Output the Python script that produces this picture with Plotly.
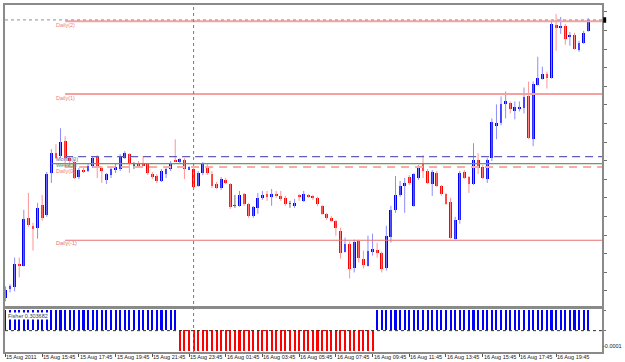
import numpy as np
import plotly.graph_objects as go

# EURUSD M15 bars, 15 Aug 2011 13:45 -> 16 Aug 2011 21:30 (prices in points, 1e-5)
open_pts = [143310, 143355, 143365, 143485, 143475, 143715, 143675, 143665, 143780, 143730,
            143940, 144040, 144025, 144100, 144015, 143995, 143920, 143955, 143950, 143975,
            144025, 143965, 143905, 143930, 143960, 143960, 144015, 144035, 143980, 143990,
            143990, 143985, 143935, 143925, 143900, 143935, 143960, 144005, 143995, 144005,
            143960, 143960, 143875, 143940, 143970, 143935, 143885, 143865, 143905, 143885,
            143775, 143775, 143835, 143785, 143725, 143765, 143815, 143835, 143820, 143835,
            143825, 143815, 143785, 143775, 143830, 143800, 143830, 143825, 143815, 143775,
            143735, 143715, 143700, 143650, 143545, 143585, 143460, 143600, 143510, 143475,
            143545, 143555, 143540, 143460, 143620, 143755, 143830, 143875, 143920, 143775,
            143915, 143985, 143950, 143885, 143940, 143875, 143835, 143795, 143610, 143705,
            143945, 143920, 143885, 144005, 143970, 143910, 144015, 144180, 144190, 144285,
            144290, 144250, 144265, 144265, 144325, 144110, 144385, 144415, 144440, 144420,
            144685, 144670, 144680, 144625, 144635, 144560, 144595, 144655]
high_pts = [143370, 143380, 143515, 143515, 143755, 143840, 143690, 143790, 143830, 143945,
            144060, 144085, 144165, 144125, 144025, 144010, 143965, 143970, 143985, 144025,
            144030, 143975, 143940, 143970, 143990, 144035, 144050, 144040, 143995, 144000,
            144025, 143990, 143945, 143935, 143960, 143975, 144000, 144110, 144015, 144015,
            143975, 143970, 143950, 143995, 143985, 143950, 143895, 143920, 143915, 143890,
            143830, 143850, 143840, 143790, 143775, 143840, 143850, 143850, 143860, 143850,
            143850, 143825, 143800, 143810, 143835, 143850, 143835, 143830, 143820, 143780,
            143740, 143725, 143705, 143665, 143615, 143595, 143605, 143605, 143550, 143625,
            143635, 143590, 143545, 143675, 143775, 143925, 143900, 143915, 143930, 143940,
            143980, 144030, 143960, 143955, 143950, 143880, 143840, 143815, 143720, 143950,
            143955, 143925, 144090, 144040, 143980, 144015, 144215, 144285, 144325, 144350,
            144300, 144300, 144300, 144370, 144400, 144400, 144525, 144475, 144450, 144700,
            144740, 144725, 144690, 144650, 144645, 144605, 144655, 144720]
low_pts = [143295, 143340, 143345, 143415, 143470, 143670, 143550, 143610, 143700, 143720,
           143890, 144010, 144015, 143965, 143975, 143910, 143910, 143940, 143945, 143965,
           143915, 143890, 143885, 143915, 143940, 143950, 144010, 143940, 143960, 143970,
           143975, 143930, 143910, 143890, 143895, 143915, 143950, 143995, 143985, 143910,
           143955, 143865, 143870, 143930, 143930, 143865, 143860, 143855, 143885, 143760,
           143765, 143770, 143775, 143715, 143715, 143735, 143805, 143800, 143775, 143815,
           143800, 143775, 143765, 143765, 143800, 143795, 143815, 143805, 143775, 143730,
           143705, 143695, 143625, 143510, 143540, 143410, 143440, 143490, 143460, 143470,
           143525, 143515, 143440, 143450, 143590, 143740, 143820, 143740, 143880, 143770,
           143905, 143915, 143885, 143825, 143870, 143825, 143780, 143610, 143605, 143685,
           143910, 143840, 143880, 143935, 143910, 143890, 144000, 144110, 144180, 144215,
           144240, 144210, 144250, 144240, 144110, 144075, 144380, 144410, 144365, 144415,
           144555, 144640, 144585, 144580, 144560, 144550, 144590, 144650]
close_pts = [143350, 143370, 143485, 143475, 143710, 143680, 143660, 143765, 143715, 143935,
             144040, 144015, 144095, 144015, 144000, 143915, 143955, 143950, 143975, 144015,
             143965, 143955, 143935, 143960, 143970, 144025, 144040, 143985, 143980, 143980,
             143980, 143940, 143925, 143900, 143950, 143960, 143990, 144000, 144010, 143960,
             143970, 143870, 143940, 143985, 143940, 143875, 143865, 143910, 143890, 143770,
             143775, 143830, 143785, 143725, 143770, 143815, 143830, 143820, 143835, 143825,
             143810, 143785, 143785, 143790, 143820, 143835, 143820, 143815, 143785, 143735,
             143715, 143700, 143665, 143540, 143585, 143455, 143595, 143515, 143480, 143550,
             143560, 143540, 143455, 143625, 143755, 143830, 143875, 143890, 143890, 143935,
             143970, 143950, 143890, 143945, 143875, 143835, 143785, 143615, 143705, 143940,
             143915, 143885, 144005, 143965, 143915, 144005, 144195, 144190, 144285, 144300,
             144260, 144270, 144270, 144320, 144115, 144390, 144420, 144440, 144420, 144690,
             144670, 144680, 144615, 144635, 144565, 144595, 144645, 144710]

fisher_sign = [1, 1, 1, 1, 1, 1, 1, 1, 1, 1, 1, 1, 1, 1, 1, 1, 1, 1, 1, 1,
               1, 1, 1, 1, 1, 1, 1, 1, 1, 1, 1, 1, 1, 1, 1, 1, 1, 1, -1, -1,
               -1, -1, -1, -1, -1, -1, -1, -1, -1, -1, -1, -1, -1, -1, -1, -1, -1, -1, -1, -1,
               -1, -1, -1, -1, -1, -1, -1, -1, -1, -1, -1, -1, -1, -1, -1, -1, -1, -1, -1, -1,
               -1, 1, 1, 1, 1, 1, 1, 1, 1, 1, 1, 1, 1, 1, 1, 1, 1, 1, 1, 1,
               1, 1, 1, 1, 1, 1, 1, 1, 1, 1, 1, 1, 1, 1, 1, 1, 1, 1, 1, 1,
               1, 1, 1, 1, 1, 1, 1, 1]

time_tick_index = [0, 8, 16, 24, 32, 40, 48, 56, 64, 72, 80, 88, 96, 104, 112, 120]
time_tick_labels = ["15 Aug 2011", "15 Aug 15:45", "15 Aug 17:45", "15 Aug 19:45",
                    "15 Aug 21:45", "15 Aug 23:45", "16 Aug 01:45", "16 Aug 03:45",
                    "16 Aug 05:45", "16 Aug 07:45", "16 Aug 09:45", "16 Aug 11:45",
                    "16 Aug 13:45", "16 Aug 15:45", "16 Aug 17:45", "16 Aug 19:45"]

level_names = ["Daily(2)", "Daily(1)", "Month(0)", "Week(0)", "Daily(0)", "Daily(-1)"]
level_pts = [144703, 144337, 144023, 143987, 143970, 143602]
day_separator_index = 41
fisher_label = "Fisher 0.303682"
sub_axis_label = "-0.0001"

# ---------------------------------------------------------------------------
o = np.array(open_pts) / 1e5
h = np.array(high_pts) / 1e5
l = np.array(low_pts) / 1e5
c = np.array(close_pts) / 1e5
n = len(o)
xi = np.arange(n)

BLUE, RED, GRAY = "#0000FF", "#FF0000", "#505050"
BLUE_W, RED_W, GRAY_W = "#8C8CFF", "#FF9494", "#707070"

kind = np.where(c > o, 0, np.where(c < o, 1, 2))
body_col = [BLUE, RED, GRAY]
wick_col = [BLUE_W, RED_W, GRAY_W]

fig = go.Figure()

# wicks
for k in range(3):
    xs, ys = [], []
    for i in xi[kind == k]:
        xs += [i, i, None]
        ys += [l[i], h[i], None]
    if xs:
        fig.add_trace(go.Scatter(x=xs, y=ys, mode="lines", line=dict(color=wick_col[k], width=1),
                                 hoverinfo="skip", showlegend=False, xaxis="x", yaxis="y"))

# bodies
base = np.minimum(o, c)
height = np.maximum(np.abs(c - o), 0.00004)
fig.add_trace(go.Bar(x=xi, y=height, base=base, width=0.62,
                     marker=dict(color=[body_col[k] for k in kind], line=dict(width=0)),
                     showlegend=False, xaxis="x", yaxis="y"))

# pivot level lines
xr = [-0.1, 130.0]
lvl_style = {
    "Daily(2)": dict(color="#F7A0A0", width=2, dash="solid", start=13.0, tcol="#F08080", off=4.0),
    "Daily(1)": dict(color="#F7A0A0", width=2, dash="solid", start=13.0, tcol="#F08080", off=3.5),
    "Month(0)": dict(color="#6060B8", width=1.3, dash="8px,5px", start=13.0, tcol="#6868A8", off=2.2),
    "Week(0)": dict(color="#60A060", width=1.3, dash="solid", start=10.2, tcol="#609060", off=1.5),
    "Daily(0)": dict(color="#FFA8A8", width=2, dash="8px,6px", start=13.0, tcol="#F08080", off=4.0),
    "Daily(-1)": dict(color="#E87070", width=1, dash="solid", start=13.0, tcol="#E87070", off=2.5),
}
for name, val in zip(level_names, level_pts):
    st = lvl_style[name]
    pv = val / 1e5
    fig.add_trace(go.Scatter(x=[st["start"], xr[1]], y=[pv, pv], mode="lines",
                             line=dict(color=st["color"], width=st["width"], dash=st["dash"]),
                             hoverinfo="skip", showlegend=False, xaxis="x", yaxis="y"))
    fig.add_annotation(x=10.6, y=pv, xref="x", yref="y", text=name, showarrow=False,
                       xanchor="left", yanchor="middle", yshift=-st["off"],
                       font=dict(family="Arial", size=5.5, color=st["tcol"]))

# bid line (last close)
fig.add_trace(go.Scatter(x=xr, y=[c[-1], c[-1]], mode="lines",
                         line=dict(color="#909090", width=1, dash="dot"),
                         hoverinfo="skip", showlegend=False, xaxis="x", yaxis="y"))

# fisher histogram
fcol = [BLUE if v > 0 else RED for v in fisher_sign]
fig.add_trace(go.Bar(x=xi, y=fisher_sign, width=0.45, marker=dict(color=fcol, line=dict(width=0)),
                     showlegend=False, xaxis="x2", yaxis="y2"))

# period separator
fig.add_shape(type="line", xref="x", yref="paper", x0=day_separator_index, x1=day_separator_index,
              y0=0, y1=1, line=dict(color="#7A7A7A", width=1, dash="dot"), layer="above")
# zero line of sub window
fig.add_shape(type="line", xref="x2", yref="y2", x0=xr[0], x1=xr[1], y0=0, y1=0,
              line=dict(color="#303030", width=1, dash="dot"))
# last price marker
fig.add_shape(type="rect", xref="paper", yref="y", x0=1.002, x1=1.007,
              y0=c[-1] - 0.00014, y1=c[-1] + 0.00014, fillcolor="black", line=dict(width=0))

# time labels
for idx, lab in zip(time_tick_index, time_tick_labels):
    fig.add_annotation(x=idx, y=0, xref="x2", yref="paper", text=lab, showarrow=False,
                       xanchor="left", yanchor="top", yshift=0, xshift=-1,
                       font=dict(family="Arial", size=5.5, color="#202020"))

fig.add_annotation(x=0.4, y=0.73, xref="x2", yref="y2", text=fisher_label, showarrow=False,
                   xanchor="left", yanchor="middle", bgcolor="white", borderpad=0,
                   font=dict(family="Arial", size=5.5, color="#404040"))
fig.add_annotation(x=1.0, y=-0.76, xref="paper", yref="y2", text=sub_axis_label, showarrow=False,
                   xanchor="left", yanchor="middle", xshift=-1,
                   font=dict(family="Arial", size=5.5, color="#202020"))

ytick_vals = np.arange(1.44750, 1.4327, -0.000935)

fig.update_layout(
    width=625, height=362,
    margin=dict(l=3, r=23, t=3, b=10),
    paper_bgcolor="white", plot_bgcolor="white",
    bargap=0, barmode="overlay",
    showlegend=False,
    xaxis=dict(domain=[0, 1], range=xr, showgrid=False, zeroline=False, showticklabels=False,
               showline=True, mirror=True, linecolor="#8A8A8A", linewidth=2, ticks="",
               anchor="y"),
    yaxis=dict(domain=[0.1318, 1], range=[1.43270, 1.44785], showgrid=False, zeroline=False,
               side="right", showline=True, mirror=True, linecolor="#8A8A8A", linewidth=2,
               ticks="outside", ticklen=3, tickcolor="#707070", tickvals=ytick_vals,
               showticklabels=False, anchor="x"),
    xaxis2=dict(domain=[0, 1], range=xr, showgrid=False, zeroline=False, showticklabels=False,
                showline=True, mirror=True, linecolor="#8A8A8A", linewidth=2,
                ticks="outside", ticklen=3, tickcolor="#505050",
                tickvals=time_tick_index, anchor="y2"),
    yaxis2=dict(domain=[0, 0.1232], range=[-1.05, 1.05], showgrid=False, zeroline=False,
                side="right", showline=True, mirror=True, linecolor="#8A8A8A", linewidth=2,
                ticks="outside", ticklen=2, tickcolor="#707070", tickvals=[1, 0],
                showticklabels=False, anchor="x2"),
)

fig.write_html("out.html")
